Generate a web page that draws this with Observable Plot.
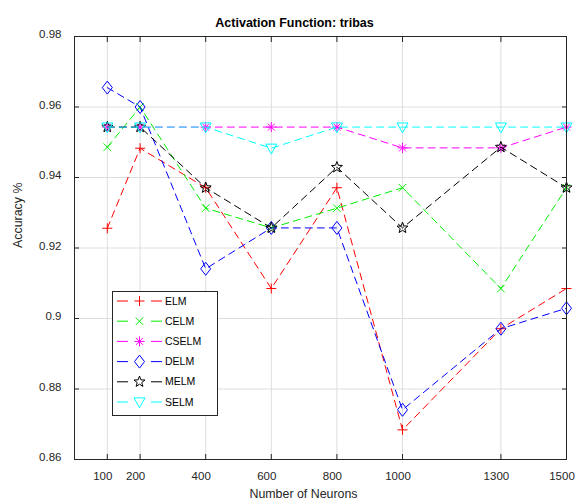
<!DOCTYPE html>
<html><head><meta charset="utf-8">
<script src="https://cdn.jsdelivr.net/npm/d3@7"></script>
<script src="https://cdn.jsdelivr.net/npm/@observablehq/plot@0.6"></script>
<style>
body{margin:0;background:#fff}
#wrap{position:relative;width:577px;height:504px;font-family:"Liberation Sans",Arial,sans-serif}
#legend{position:absolute;left:0;top:0;pointer-events:none}
</style>
</head><body><div id="wrap"></div>
<script>
const neurons = [100, 200, 400, 600, 800, 1000, 1300, 1500];
const ELM   = [0.9256, 0.9483, 0.9371, 0.9085, 0.9371, 0.8684, 0.8971, 0.9085];
const CELM  = [0.9486, 0.9600, 0.9313, 0.9257, 0.9313, 0.9371, 0.9085, 0.9371];
const CSELM = [0.9543, 0.9543, 0.9543, 0.9543, 0.9543, 0.9484, 0.9484, 0.9543];
const DELM  = [0.9655, 0.9600, 0.9141, 0.9257, 0.9257, 0.8741, 0.8971, 0.9029];
const MELM  = [0.9543, 0.9543, 0.9371, 0.9257, 0.9429, 0.9257, 0.9486, 0.9371];
const SELM  = [0.9543, 0.9543, 0.9543, 0.9483, 0.9543, 0.9543, 0.9543, 0.9543];
const seriesNames  = ["ELM", "CELM", "CSELM", "DELM", "MELM", "SELM"];
const seriesValues = [ELM, CELM, CSELM, DELM, MELM, SELM];
const seriesColors = ["#ff0000", "#00ee00", "#ff00ff", "#0000ff", "#000000", "#00ffff"];
const yTicks = [0.86, 0.88, 0.90, 0.92, 0.94, 0.96, 0.98];
const titleText = "Activation Function: tribas";
const xLabel = "Number of Neurons";
const yLabel = "Accuracy %";

const R = s => Math.sqrt(s / Math.PI);
const symPlus = {draw(c, s){const r = R(s); c.moveTo(-r,0); c.lineTo(r,0); c.moveTo(0,-r); c.lineTo(0,r);}};
const symTimes = {draw(c, s){const r = R(s)*0.75; c.moveTo(-r,-r); c.lineTo(r,r); c.moveTo(-r,r); c.lineTo(r,-r);}};
const symAst = {draw(c, s){const r = R(s); const d = r*0.7; c.moveTo(-r,0); c.lineTo(r,0); c.moveTo(0,-r); c.lineTo(0,r); c.moveTo(-d,-d); c.lineTo(d,d); c.moveTo(-d,d); c.lineTo(d,-d);}};
const symDiamond = {draw(c, s){const r = R(s); c.moveTo(0,-r*1.3); c.lineTo(r,0); c.lineTo(0,r*1.3); c.lineTo(-r,0); c.closePath();}};
const symStar = {draw(c, s){const r = R(s)*1.15, ri = r*0.42; for(let i=0;i<10;i++){const a = -Math.PI/2 + i*Math.PI/5; const rr = i%2 ? ri : r; const px = rr*Math.cos(a), py = rr*Math.sin(a); i ? c.lineTo(px,py) : c.moveTo(px,py);} c.closePath();}};
const symTriDown = {draw(c, s){const r = R(s)*1.1; c.moveTo(-r,-r*0.75); c.lineTo(r,-r*0.75); c.lineTo(0,r*1.05); c.closePath();}};
const symbols = [symPlus, symTimes, symAst, symDiamond, symStar, symTriDown];

const rows = seriesNames.map((s, i) => neurons.map((n, j) => ({s, n, v: seriesValues[i][j]})));

const font = '"Liberation Sans", Arial, sans-serif';
const seriesMarks = [];
seriesNames.forEach((s, i) => {
  seriesMarks.push(Plot.line(rows[i], {x: "n", y: "v", stroke: seriesColors[i], strokeWidth: 1, strokeDasharray: "7,5"}));
  seriesMarks.push(Plot.dot(rows[i], {x: "n", y: "v", stroke: seriesColors[i], symbol: symbols[i], r: 5, strokeWidth: 1, fill: "none"}));
});

const chart = Plot.plot({
  width: 577, height: 504,
  marginLeft: 74, marginRight: 11, marginTop: 36, marginBottom: 45,
  style: {fontFamily: font, fontSize: "11.5px", background: "#fff", color: "#262626"},
  x: {domain: [0, 1500]},
  y: {domain: [0.86, 0.98]},
  marks: [
    Plot.gridX(neurons, {stroke: "#dedede", strokeOpacity: 1}),
    Plot.gridY(yTicks, {stroke: "#dedede", strokeOpacity: 1}),
    Plot.axisX(neurons, {anchor: "bottom", tickSize: 0, tickPadding: 12, dx: -4.5, tickFormat: d => String(d), label: null}),
    Plot.axisX(neurons, {anchor: "bottom", tickSize: 5, dy: -5, text: null, label: null, stroke: "#262626"}),
    Plot.axisX(neurons, {anchor: "top", tickSize: 5, dy: 5, text: null, label: null, stroke: "#262626"}),
    Plot.axisY(yTicks, {anchor: "left", tickSize: 0, tickPadding: 13, dy: -2, tickFormat: d => String(d), label: null}),
    Plot.axisY(yTicks, {anchor: "left", tickSize: 5, dx: 5, text: null, label: null, stroke: "#262626"}),
    Plot.axisY(yTicks, {anchor: "right", tickSize: 5, dx: -5, text: null, label: null, stroke: "#262626"}),
    ...seriesMarks,
    Plot.frame({stroke: "#262626", strokeWidth: 1}),
    Plot.text([titleText], {frameAnchor: "top", dy: -18, dx: -26, fontWeight: "bold", fontSize: 12.5, fill: "#000"}),
    Plot.text([xLabel], {frameAnchor: "bottom", dy: 38, dx: -17, fontSize: 12.4, fill: "#262626"}),
    Plot.text([yLabel], {frameAnchor: "left", dx: -56, rotate: -90, fontSize: 12.4, fill: "#262626"})
  ]
});
document.getElementById("wrap").appendChild(chart);

// Legend overlay
const lg = d3.select("#wrap").append("svg").attr("id", "legend").attr("width", 577).attr("height", 504);
lg.append("rect").attr("x", 112.5).attr("y", 291.5).attr("width", 105).attr("height", 124)
  .attr("fill", "#fff").attr("stroke", "#262626").attr("stroke-width", 1);
seriesNames.forEach((s, i) => {
  const y = 301 + i * 20.2;
  const g = lg.append("g");
  g.append("line").attr("x1", 117).attr("x2", 128).attr("y1", y).attr("y2", y).attr("stroke", seriesColors[i]);
  g.append("line").attr("x1", 151).attr("x2", 162).attr("y1", y).attr("y2", y).attr("stroke", seriesColors[i]);
  g.append("path").attr("transform", `translate(139.5,${y})`).attr("d", d3.symbol(symbols[i], 25 * Math.PI)())
    .attr("fill", "none").attr("stroke", seriesColors[i]).attr("stroke-width", 1);
  g.append("text").attr("x", 165).attr("y", y).attr("dy", "0.35em").attr("font-size", 10.5)
    .attr("font-family", font).attr("fill", "#000").text(s);
});
</script>
</body></html>
